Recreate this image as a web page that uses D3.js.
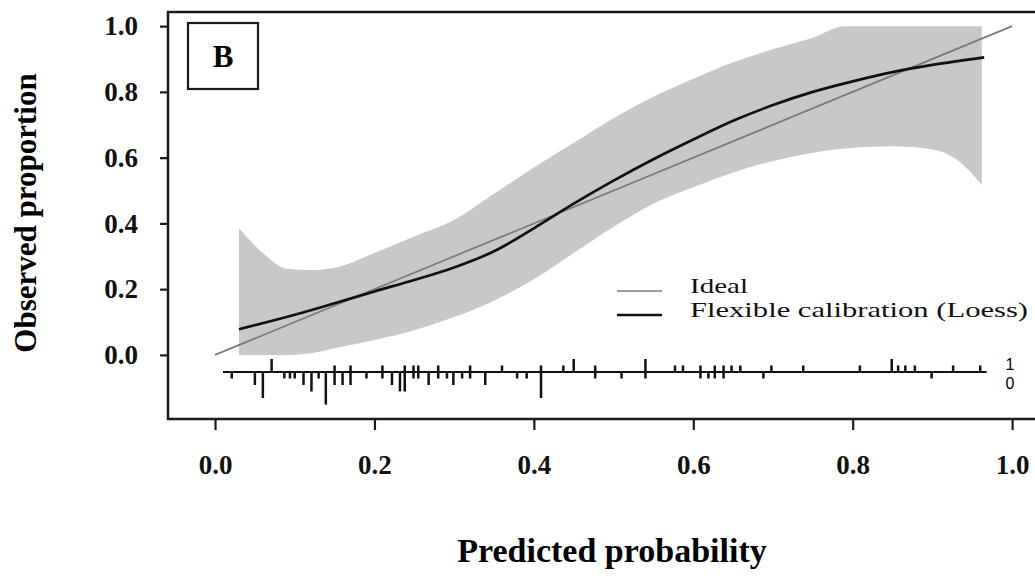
<!DOCTYPE html>
<html>
<head>
<meta charset="utf-8">
<script src="https://cdn.jsdelivr.net/npm/d3@7/dist/d3.min.js"></script>
<style>
  html, body { margin: 0; padding: 0; background: #fff; }
  svg { display: block; }
  .serif { font-family: "Liberation Serif", "Times New Roman", serif; }
</style>
</head>
<body>
<div id="chart"></div>
<script>
// axis ticks
const xTicks = [0, 0.2, 0.4, 0.6, 0.8, 1.0];
const yTicks = [0, 0.2, 0.4, 0.6, 0.8, 1.0];

// flexible calibration (loess) curve
const loessP   = [0.03, 0.1, 0.15, 0.2, 0.25, 0.3, 0.35, 0.4, 0.45, 0.5, 0.55, 0.6, 0.65, 0.7, 0.75, 0.8, 0.85, 0.9, 0.965];
const loessObs = [0.078, 0.122, 0.157, 0.193, 0.228, 0.266, 0.315, 0.385, 0.46, 0.53, 0.595, 0.655, 0.712, 0.76, 0.80, 0.832, 0.86, 0.882, 0.905];

// confidence band around loess
const bandP     = [0.03, 0.06, 0.09, 0.12, 0.15, 0.2, 0.25, 0.3, 0.35, 0.4, 0.45, 0.5, 0.55, 0.6, 0.65, 0.7, 0.75, 0.79, 0.85, 0.9, 0.93, 0.962];
const bandUpper = [0.385, 0.31, 0.262, 0.258, 0.265, 0.31, 0.36, 0.41, 0.49, 0.57, 0.645, 0.72, 0.785, 0.84, 0.89, 0.93, 0.965, 1.0, 1.0, 1.0, 1.0, 1.0];
const bandLower = [0.0, 0.0, 0.0, 0.005, 0.02, 0.045, 0.075, 0.115, 0.165, 0.23, 0.31, 0.39, 0.46, 0.51, 0.555, 0.59, 0.615, 0.628, 0.635, 0.625, 0.595, 0.517];

// rug: predicted probabilities with counts, outcome 1 (up) and 0 (down)
const rugOneP  = [0.071, 0.15, 0.17, 0.21, 0.238, 0.249, 0.255, 0.28, 0.32, 0.36, 0.409, 0.437, 0.45, 0.477, 0.54, 0.577, 0.587, 0.609, 0.627, 0.638, 0.648, 0.659, 0.698, 0.738, 0.809, 0.849, 0.857, 0.866, 0.878, 0.926, 0.96];
const rugOneN  = [2, 1, 1, 1, 1, 1, 1, 1, 1, 1, 1, 1, 2, 1, 2, 1, 1, 1, 1, 1, 1, 1, 1, 1, 1, 2, 1, 1, 1, 1, 1];
const rugZeroP = [0.021, 0.05, 0.06, 0.087, 0.094, 0.1, 0.111, 0.121, 0.13, 0.139, 0.15, 0.16, 0.17, 0.19, 0.21, 0.222, 0.232, 0.238, 0.249, 0.255, 0.268, 0.28, 0.291, 0.299, 0.31, 0.32, 0.339, 0.379, 0.391, 0.409, 0.477, 0.51, 0.54, 0.609, 0.619, 0.627, 0.638, 0.688, 0.899];
const rugZeroN = [1, 2, 4, 1, 1, 1, 2, 3, 1, 5, 2, 2, 2, 1, 1, 2, 3, 3, 1, 1, 2, 1, 1, 2, 1, 1, 2, 1, 1, 4, 1, 1, 1, 1, 1, 1, 1, 1, 1];
const rugRange = [0.01, 0.968];

const W = 1035, H = 576;
const frame = { left: 168, top: 12, right: 1040, bottom: 419 };

const x = d3.scaleLinear().domain([-0.059, 1.035]).range([frame.left, frame.right]);
const y = d3.scaleLinear().domain([-0.195, 1.043]).range([frame.bottom, frame.top]);

const rugBase = -0.052;   // y value of rug baseline
const rugUnit = 0.0198;   // y units per count

const svg = d3.select('#chart').append('svg')
  .attr('width', W).attr('height', H)
  .attr('viewBox', `0 0 ${W} ${H}`);

const plot = svg.append('g');

// confidence band
const band = bandP.map((p, i) => ({ p, lo: bandLower[i], hi: bandUpper[i] }));
plot.append('path').datum(band)
  .attr('fill', '#c8c8c8')
  .attr('stroke', 'none')
  .attr('d', d3.area().x(d => x(d.p)).y0(d => y(d.lo)).y1(d => y(d.hi)).curve(d3.curveMonotoneX));

// ideal line
plot.append('path').datum([[0, 0], [1, 1]])
  .attr('fill', 'none').attr('stroke', '#7a7a7a').attr('stroke-width', 1.7)
  .attr('d', d3.line().x(d => x(d[0])).y(d => y(d[1])));

// loess
const loess = loessP.map((p, i) => [p, loessObs[i]]);
plot.append('path').datum(loess)
  .attr('fill', 'none').attr('stroke', '#111').attr('stroke-width', 2.7)
  .attr('d', d3.line().x(d => x(d[0])).y(d => y(d[1])).curve(d3.curveMonotoneX));

// rug
const rug = plot.append('g').attr('stroke', '#111');
rug.append('line')
  .attr('x1', x(rugRange[0])).attr('x2', x(rugRange[1]))
  .attr('y1', y(rugBase)).attr('y2', y(rugBase))
  .attr('stroke-width', 2.2);
rug.selectAll('line.one').data(rugOneP.map((p, i) => [p, rugOneN[i]])).join('line')
  .attr('class', 'one')
  .attr('x1', d => x(d[0])).attr('x2', d => x(d[0]))
  .attr('y1', y(rugBase)).attr('y2', d => y(rugBase + d[1] * rugUnit))
  .attr('stroke-width', 2.5);
rug.selectAll('line.zero').data(rugZeroP.map((p, i) => [p, rugZeroN[i]])).join('line')
  .attr('class', 'zero')
  .attr('x1', d => x(d[0])).attr('x2', d => x(d[0]))
  .attr('y1', y(rugBase)).attr('y2', d => y(rugBase - d[1] * rugUnit))
  .attr('stroke-width', 2.5);
svg.append('text').attr('x', 1010).attr('y', 370)
  .attr('text-anchor', 'middle')
  .style('font-family', '"Liberation Sans", Arial, sans-serif').style('font-size', '16px')
  .text('1');
svg.append('text').attr('x', 1010).attr('y', 389)
  .attr('text-anchor', 'middle')
  .style('font-family', '"Liberation Sans", Arial, sans-serif').style('font-size', '16px')
  .text('0');

// frame
svg.append('rect')
  .attr('x', frame.left).attr('y', frame.top)
  .attr('width', frame.right - frame.left).attr('height', frame.bottom - frame.top)
  .attr('fill', 'none').attr('stroke', '#1a1a1a').attr('stroke-width', 2.5);

// axes
const fmt = d3.format('.1f');
const xAxis = svg.append('g').attr('transform', `translate(0,${frame.bottom})`)
  .call(d3.axisBottom(x).tickValues(xTicks).tickFormat(fmt).tickSize(11).tickPadding(25));
const yAxis = svg.append('g').attr('transform', `translate(${frame.left},0)`)
  .call(d3.axisLeft(y).tickValues(yTicks).tickFormat(fmt).tickSize(8).tickPadding(22));
[xAxis, yAxis].forEach(a => {
  a.select('.domain').remove();
  a.selectAll('.tick line').attr('stroke', '#1a1a1a').attr('stroke-width', 2.2);
  a.selectAll('.tick text')
    .attr('class', 'serif')
    .attr('fill', '#111')
    .style('font-size', '27px').style('font-weight', 'bold');
});

// axis titles
svg.append('text').attr('class', 'serif')
  .attr('x', 612).attr('y', 562)
  .attr('text-anchor', 'middle')
  .style('font-size', '34px').style('font-weight', 'bold')
  .text('Predicted probability');
svg.append('text').attr('class', 'serif')
  .attr('transform', 'translate(36,213) rotate(-90)')
  .attr('text-anchor', 'middle')
  .style('font-size', '31px').style('font-weight', 'bold')
  .text('Observed proportion');

// panel label
svg.append('rect').attr('x', 188).attr('y', 23).attr('width', 70).attr('height', 66)
  .attr('fill', '#fff').attr('stroke', '#1a1a1a').attr('stroke-width', 2.2);
svg.append('text').attr('class', 'serif')
  .attr('x', 223).attr('y', 67).attr('text-anchor', 'middle')
  .style('font-size', '31px').style('font-weight', 'bold')
  .text('B');

// legend
const legend = svg.append('g');
const legItems = [
  { label: 'Ideal', color: '#7a7a7a', width: 1.7, y: 291, len: 58 },
  { label: 'Flexible calibration (Loess)', color: '#111', width: 2.7, y: 315, len: 338 }
];
legItems.forEach(d => {
  legend.append('line').attr('x1', 617).attr('x2', 662).attr('y1', d.y).attr('y2', d.y)
    .attr('stroke', d.color).attr('stroke-width', d.width);
  legend.append('text').attr('class', 'serif')
    .attr('x', 690).attr('y', d.y + 2)
    .attr('textLength', d.len).attr('lengthAdjust', 'spacingAndGlyphs')
    .attr('fill', '#111')
    .style('font-size', '21px')
    .text(d.label);
});
</script>
</body>
</html>
